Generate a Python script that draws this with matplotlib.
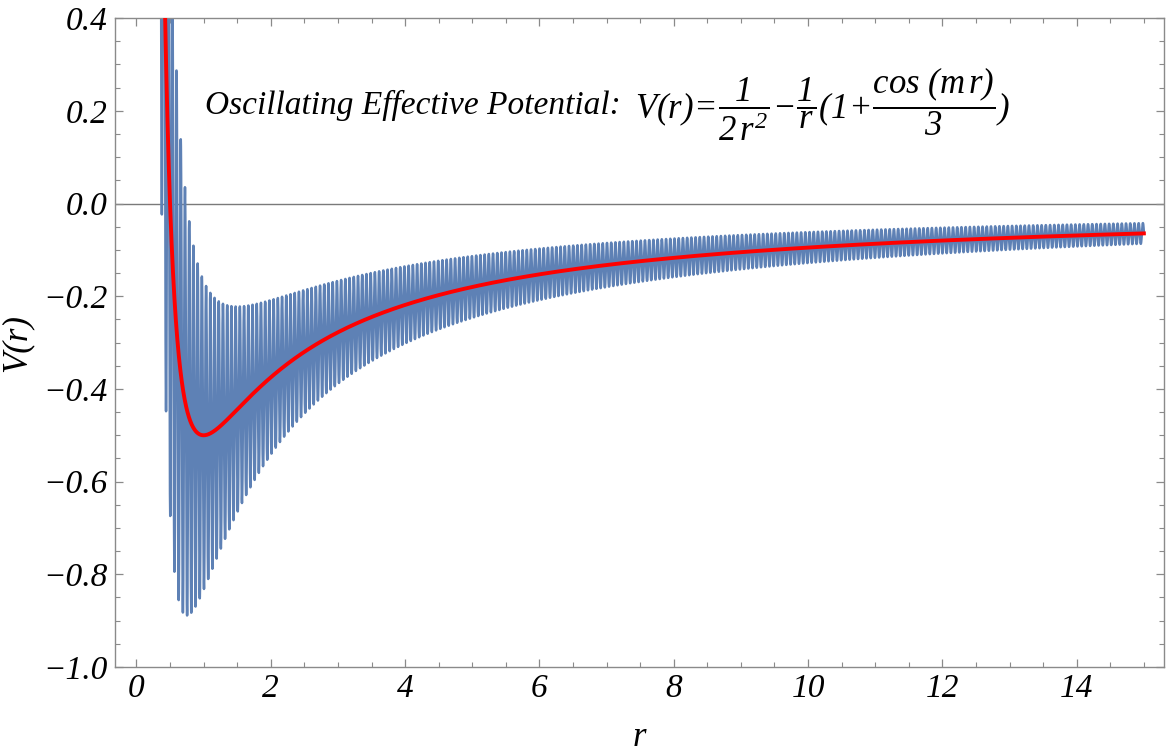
import numpy as np
import matplotlib
matplotlib.use("Agg")
import matplotlib.pyplot as plt
from matplotlib.ticker import MultipleLocator, FuncFormatter

# ------------------------------------------------------------------
# Potential as stated on the chart: V(r) = 1/(2r^2) - 1/r (1 + cos(m r)/3)
# ------------------------------------------------------------------
R_MIN = 0.1
R_MAX = 15.0
M_FREQ = 100.0
N_SAMPLES = 24000
OSC_AMPLITUDE = 1.0 / 3.0

X_TICKS = [0, 2, 4, 6, 8, 10, 12, 14]
Y_TICKS = [-1.0, -0.8, -0.6, -0.4, -0.2, 0.0, 0.2, 0.4]

BLUE = "#5E81B5"
RED = "#FF0000"
FRAME = "#8a8a8a"

plt.rcParams["font.family"] = ["Liberation Serif", "DejaVu Serif"]
plt.rcParams["mathtext.fontset"] = "custom"
plt.rcParams["mathtext.rm"] = "Liberation Serif:italic"
plt.rcParams["mathtext.it"] = "Liberation Serif:italic"
plt.rcParams["mathtext.bf"] = "Liberation Serif:italic:bold"

r = np.linspace(R_MIN, R_MAX, N_SAMPLES)
v_mean = 1.0 / (2.0 * r ** 2) - 1.0 / r
v_osc = 1.0 / (2.0 * r ** 2) - (1.0 / r) * (1.0 + OSC_AMPLITUDE * np.cos(M_FREQ * r))

fig = plt.figure(figsize=(11.66, 7.56), dpi=100)
ax = fig.add_axes([0.0986, 0.1177, 0.8997, 0.8583])

ax.axhline(0.0, color="#7a7a7a", linewidth=1.0, zorder=1)
ax.plot(r, v_osc, color=BLUE, linewidth=1.8, zorder=2)
ax.plot(r, v_mean, color=RED, linewidth=2.8, zorder=3)

ax.set_xlim(-0.32, 15.3)
ax.set_ylim(-1.0, 0.4)
ax.set_xticks(X_TICKS)
ax.set_yticks(Y_TICKS)
ax.xaxis.set_minor_locator(MultipleLocator(0.5))
ax.yaxis.set_minor_locator(MultipleLocator(0.05))
ax.yaxis.set_major_formatter(FuncFormatter(lambda v, _: f"{v:.1f}".replace("-", "\u2212")))

for s in ax.spines.values():
    s.set_color(FRAME)
    s.set_linewidth(1.0)
ax.tick_params(which="both", direction="in", top=True, right=True, color=FRAME,
               labelsize=24, pad=5)
ax.tick_params(which="major", length=6, width=0.9)
ax.tick_params(which="minor", length=3.5, width=0.8)
for lab in ax.get_xticklabels() + ax.get_yticklabels():
    lab.set_fontstyle("italic")

ax.set_xlabel("r", fontsize=25, fontstyle="italic", labelpad=12)
ax.set_ylabel("V(r)", fontsize=25, fontstyle="italic")
ax.yaxis.set_label_coords(-0.078, 0.5)

ax.text(1.02, 0.194, "Oscillating Effective Potential:", fontsize=24,
        fontstyle="italic", va="baseline", ha="left")
ax.text(7.42, 0.214,
        r"$V(r)\!=\!\dfrac{1}{2\,r^2}\!-\!\dfrac{1}{r}(1\!+\!\dfrac{\cos\,(m\,r)}{3})$",
        fontsize=25, va="center", ha="left")

fig.savefig("out.png", dpi=100)
